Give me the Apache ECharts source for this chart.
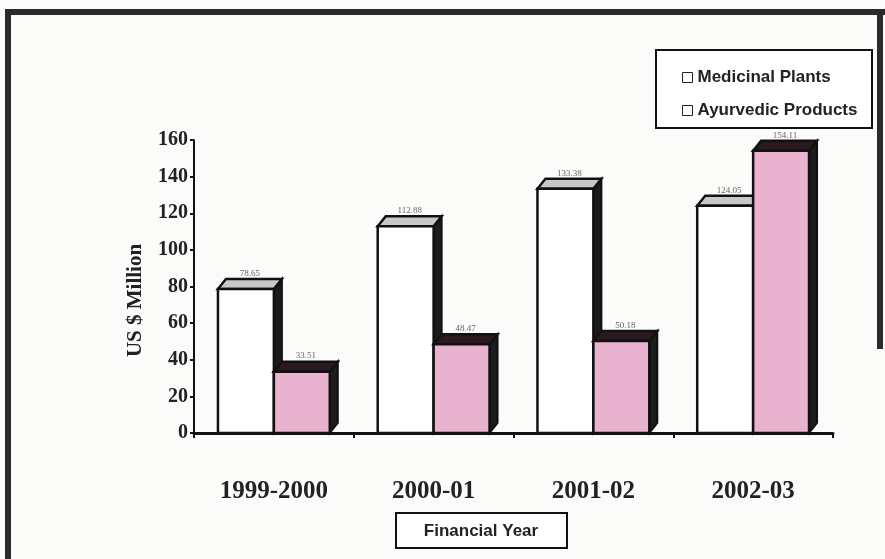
<!DOCTYPE html>
<html>
<head>
<meta charset="utf-8">
<script src="https://cdn.jsdelivr.net/npm/echarts@6/dist/echarts.min.js"></script>
<style>
html,body{margin:0;padding:0;background:#fbfbf9;}
#chart{width:885px;height:559px;}
</style>
</head>
<body>
<div id="chart"></div>
<script>
var categories = ['1999-2000', '2000-01', '2001-02', '2002-03'];
var medicinalPlants = [78.65, 112.88, 133.38, 124.05];
var ayurvedicProducts = [33.51, 48.47, 50.18, 154.11];
var yTicks = [0, 20, 40, 60, 80, 100, 120, 140, 160];

var DX = 8, DY = -10;

function bar3d(offsetSide, faceColor, topColor) {
  return function (params, api) {
    var ci = api.value(0), v = api.value(1);
    var base = api.coord([ci, 0]);
    var top = api.coord([ci, v]);
    var bw = api.size([1, 0])[0] * 0.35;
    var x = offsetSide < 0 ? base[0] - bw : base[0];
    var ty = top[1], by = base[1];
    return {
      type: 'group',
      children: [
        { type: 'polygon', shape: { points: [[x + bw, ty], [x + bw + DX, ty + DY], [x + bw + DX, by + DY], [x + bw, by]] },
          style: { fill: '#1c1c1c', stroke: '#111', lineWidth: 2 } },
        { type: 'polygon', shape: { points: [[x, ty], [x + DX, ty + DY], [x + bw + DX, ty + DY], [x + bw, ty]] },
          style: { fill: topColor, stroke: '#111', lineWidth: 2.5 } },
        { type: 'rect', shape: { x: x, y: ty, width: bw, height: by - ty },
          style: { fill: faceColor, stroke: '#111', lineWidth: 2.5 } },
        { type: 'text', style: { x: x + bw / 2 + DX / 2, y: ty + DY - 1, text: v.toFixed(2),
          fill: '#666', font: '9px "Liberation Serif", serif', textAlign: 'center', textVerticalAlign: 'bottom' } }
      ]
    };
  };
}

var serif = '"Liberation Serif", "Times New Roman", serif';
var sans = '"Liberation Sans", Arial, sans-serif';

var chart = echarts.init(document.getElementById('chart'));
chart.setOption({
  backgroundColor: '#fbfbf9',
  animation: false,
  grid: { left: 194, right: 52, top: 140, bottom: 126 },
  legend: {
    orient: 'vertical', left: 677, top: 64, itemGap: 16,
    itemWidth: 10, itemHeight: 10, icon: 'rect',
    textStyle: { fontFamily: sans, fontWeight: 'bold', fontSize: 17, color: '#222' },
    data: [
      { name: 'Medicinal Plants', itemStyle: { color: '#fff', borderColor: '#222', borderWidth: 1 } },
      { name: 'Ayurvedic Products', itemStyle: { color: '#fff', borderColor: '#222', borderWidth: 1 } }
    ]
  },
  xAxis: {
    type: 'category', data: categories,
    axisLine: { lineStyle: { color: '#111', width: 3 } },
    axisTick: { show: true, length: 5, lineStyle: { color: '#111', width: 2 } },
    axisLabel: { margin: 46, fontFamily: serif, fontWeight: 'bold', fontSize: 25, color: '#222' }
  },
  yAxis: {
    type: 'value', min: yTicks[0], max: yTicks[yTicks.length - 1], interval: 20,
    name: 'US $ Million', nameLocation: 'middle', nameGap: 48,
    nameTextStyle: { fontFamily: serif, fontWeight: 'bold', fontSize: 21, color: '#222', padding: [0, 28, 0, 0] },
    axisLine: { show: true, lineStyle: { color: '#111', width: 2 } },
    axisTick: { show: true, length: 4, lineStyle: { color: '#111', width: 2 } },
    splitLine: { show: false },
    axisLabel: { margin: 6, fontFamily: serif, fontWeight: 'bold', fontSize: 20, color: '#222' }
  },
  graphic: [
    { type: 'rect', shape: { x: 5, y: 9, width: 880, height: 6 }, style: { fill: '#2b2b2b' } },
    { type: 'rect', shape: { x: 5, y: 9, width: 6, height: 550 }, style: { fill: '#2b2b2b' } },
    { type: 'rect', shape: { x: 877, y: 9, width: 6, height: 340 }, style: { fill: '#2b2b2b' } },
    { type: 'rect', shape: { x: 656, y: 50, width: 216, height: 78 }, style: { fill: '#fff', stroke: '#111', lineWidth: 2 }, z: -1 },
    { type: 'rect', shape: { x: 396, y: 513, width: 171, height: 35 }, style: { fill: '#fff', stroke: '#111', lineWidth: 2 } },
    { type: 'text', x: 481, y: 531, style: { text: 'Financial Year', fill: '#222', font: 'bold 17px "Liberation Sans", Arial, sans-serif', textAlign: 'center', textVerticalAlign: 'middle' } }
  ],
  series: [
    { name: 'Medicinal Plants', type: 'custom', renderItem: bar3d(-1, '#ffffff', '#c8c8c8'),
      itemStyle: { color: '#fff' },
      data: medicinalPlants.map(function (v, i) { return [i, v]; }) },
    { name: 'Ayurvedic Products', type: 'custom', renderItem: bar3d(1, '#e9b3cf', '#2a1a20'),
      itemStyle: { color: '#fff' },
      data: ayurvedicProducts.map(function (v, i) { return [i, v]; }) }
  ]
});
</script>
</body>
</html>
